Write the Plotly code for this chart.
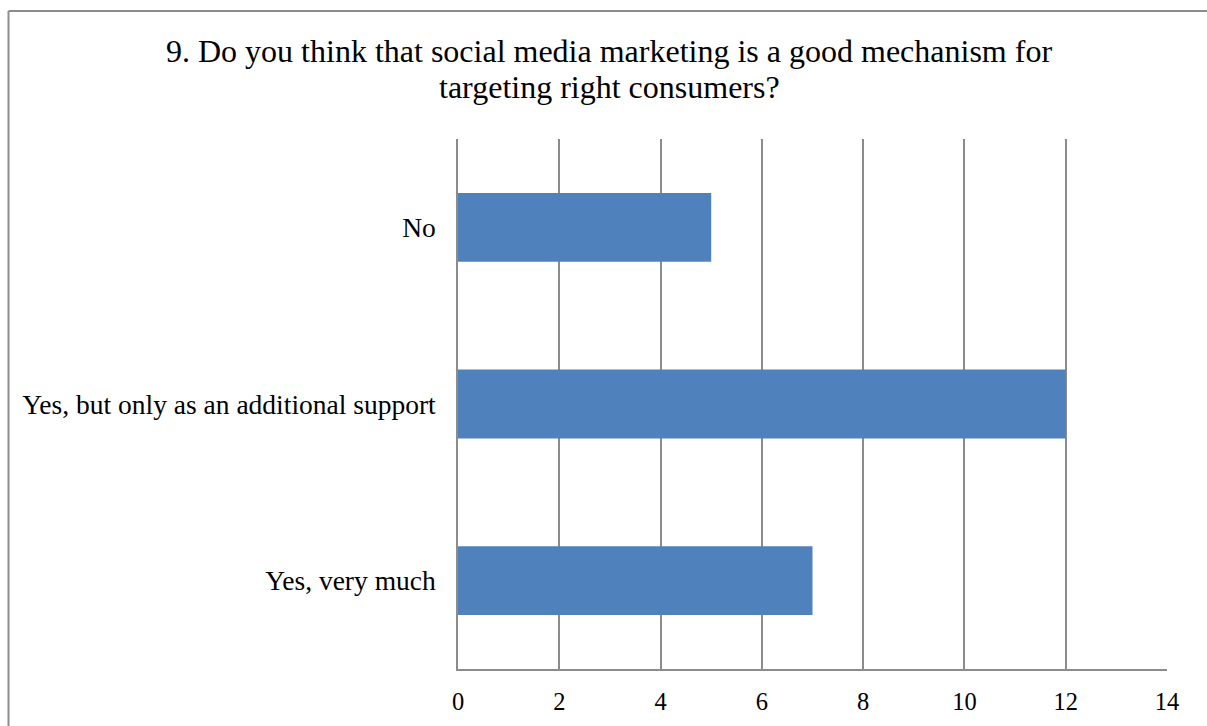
import plotly.graph_objects as go

# Survey responses (count of respondents)
categories = ["No", "Yes, but only as an additional support", "Yes, very much"]
counts = [5, 12, 7]
x_ticks = [0, 2, 4, 6, 8, 10, 12, 14]

title_lines = [
    "9. Do you think that social media marketing is a good mechanism for",
    "targeting right consumers?",
]

W, H = 1207, 726
L, R, T, B = 458, 40, 139, 57
pw, ph = W - L - R, H - T - B


def px_x(p):
    return (p - L) / pw


def px_y(p):
    return (H - B - p) / ph


grey = "#8c8c8c"
serif = "Liberation Serif, Times New Roman, serif"

fig = go.Figure(
    go.Bar(
        x=counts,
        y=categories,
        orientation="h",
        marker=dict(color="#4F81BD", line=dict(width=0)),
    )
)

title_tops = [31, 67]
annotations = [
    dict(
        text=line,
        xref="paper", yref="paper",
        x=px_x(609), y=px_y(top),
        xanchor="center", yanchor="top",
        showarrow=False,
        font=dict(size=32, family=serif, color="black"),
    )
    for line, top in zip(title_lines, title_tops)
]

fig.update_layout(
    width=W,
    height=H,
    margin=dict(l=L, r=R, t=T, b=B, autoexpand=False),
    paper_bgcolor="white",
    plot_bgcolor="white",
    bargap=0.61,
    showlegend=False,
    font=dict(family=serif, color="black", size=24),
    xaxis=dict(
        range=[0, 14],
        tickvals=x_ticks,
        showgrid=True,
        gridcolor=grey,
        gridwidth=1.5,
        showline=True,
        linecolor=grey,
        linewidth=1.5,
        zeroline=False,
        ticks="",
        automargin=False,
        tickfont=dict(size=24.5, family=serif),
        ticklabelstandoff=10,
    ),
    yaxis=dict(
        categoryorder="array",
        categoryarray=categories[::-1],
        showline=True,
        linecolor=grey,
        linewidth=1.5,
        showgrid=False,
        ticks="",
        automargin=False,
        ticklabelstandoff=15,
        tickfont=dict(size=27.5, family=serif),
    ),
    annotations=annotations,
    shapes=[
        # chart frame
        dict(type="line", xref="paper", yref="paper",
             x0=px_x(8.5), x1=px_x(1215), y0=px_y(11), y1=px_y(11),
             line=dict(color=grey, width=2)),
        dict(type="line", xref="paper", yref="paper",
             x0=px_x(8.5), x1=px_x(8.5), y0=px_y(11), y1=px_y(740),
             line=dict(color=grey, width=2)),
    ],
)

fig.write_html("out.html")
